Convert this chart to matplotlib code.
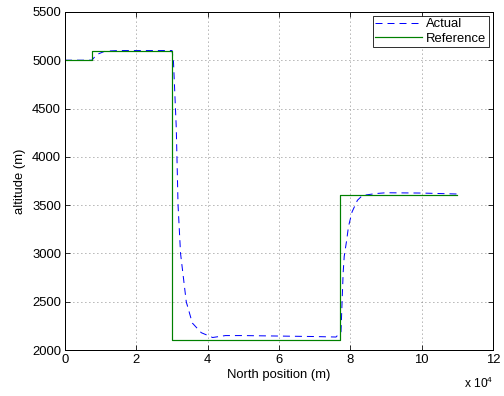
import numpy as np
import matplotlib
matplotlib.use('Agg')
import matplotlib.pyplot as plt

plt.rcParams['font.family'] = ['Liberation Sans', 'DejaVu Sans']
plt.rcParams['mathtext.fontset'] = 'custom'
plt.rcParams['mathtext.rm'] = 'Liberation Sans'

# Reference altitude profile (step commands)
ref_north = [0, 7500, 7500, 30000, 30000, 77000, 77000, 110000]
ref_alt = [5000, 5000, 5100, 5100, 2100, 2100, 3600, 3600]

# Actual altitude response
act_north = [0, 7500, 8000, 8400, 9000, 9800, 11000, 12600, 15000, 30000,
             30400, 31200, 31700, 32400, 34000, 35700, 38200, 41400, 45000,
             50000, 60000, 70000, 76000, 77400, 77700, 78000, 78300, 79000,
             79500, 80500, 82000, 83400, 87200, 90000, 100000, 110000]
act_alt = [5000, 5000, 5020, 5037, 5060, 5072, 5090, 5096, 5100, 5100,
           5000, 4300, 3500, 3000, 2500, 2280, 2180, 2130, 2150,
           2150, 2145, 2140, 2135, 2190, 2500, 2800, 2970, 3140,
           3280, 3430, 3550, 3600, 3620, 3628, 3625, 3615]

xticks = [0, 2, 4, 6, 8, 10, 12]
yticks = [2000, 2500, 3000, 3500, 4000, 4500, 5000, 5500]

fig = plt.figure(figsize=(7, 5.5), dpi=72)
ax = fig.add_axes([0.129, 0.116, 0.849, 0.854])

ax.plot(act_north, act_alt, color='blue', linestyle=(0, (7, 5)), linewidth=1.0, label='Actual')
ax.plot(ref_north, ref_alt, color=(0, 0.5, 0), linewidth=1.2, label='Reference')

ax.set_xlim(0, 120000)
ax.set_ylim(2000, 5500)
ax.set_xticks([t * 1e4 for t in xticks])
ax.set_xticklabels([str(t) for t in xticks])
ax.set_yticks(yticks)
ax.tick_params(direction='in', top=True, right=True, labelsize=13, length=5, pad=4)
ax.grid(True, linestyle=(0, (1, 4)), color='0.35', linewidth=0.8)
for s in ax.spines.values():
    s.set_linewidth(1.0)

ax.set_xlabel('North position (m)', fontsize=13, labelpad=3)
ax.set_ylabel('altitude (m)', fontsize=13, labelpad=6)
ax.text(1.0, -0.075, r'x 10$^{4}$', transform=ax.transAxes, ha='right', va='top', fontsize=12)

leg = ax.legend(loc='upper right', fontsize=13, fancybox=False, framealpha=1,
                edgecolor='black', borderaxespad=0.3, handlelength=3.6,
                borderpad=0.2, labelspacing=0.15, handletextpad=0.3)
leg.get_frame().set_linewidth(0.8)

fig.savefig('out.png', dpi=72)
